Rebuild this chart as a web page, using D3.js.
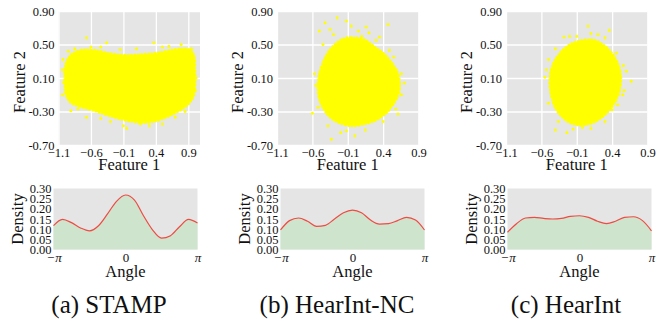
<!DOCTYPE html>
<html>
<head>
<meta charset="utf-8">
<script src="https://cdn.jsdelivr.net/npm/d3@7/dist/d3.min.js"></script>
<style>
  body { margin: 0; background: #fff; }
  svg text { font-family: "Liberation Serif", "Times New Roman", Times, "DejaVu Serif", serif; fill: #111; }
</style>
</head>
<body>
<div id="chart"></div>
<script>
// ---- data ----
const captions = ['(a) STAMP', '(b) HearInt-NC', '(c) HearInt'];

const xTicks = [-1.1, -0.6, -0.1, 0.4, 0.9];
const xTickLabels = ['\u22121.1', '\u22120.6', '\u22120.1', '0.4', '0.9'];
const yTicks = [0.9, 0.5, 0.1, -0.3, -0.7];
const yTickLabels = ['0.90', '0.50', '0.10', '-0.30', '-0.70'];

// outline of the dense part of each point cloud (feature 1, feature 2)
const stampCloud = [
  [-1.0, 0.0], [-1.0, 0.2], [-0.97, 0.3], [-0.9, 0.38], [-0.75, 0.43], [-0.55, 0.43],
  [-0.3, 0.39], [-0.05, 0.37], [0.2, 0.38], [0.45, 0.40], [0.7, 0.44], [0.9, 0.44],
  [0.98, 0.38], [1.0, 0.2], [1.0, 0.0], [0.97, -0.13], [0.87, -0.23], [0.66, -0.33],
  [0.40, -0.41], [0.19, -0.43], [-0.13, -0.39], [-0.54, -0.29], [-0.91, -0.19], [-0.99, -0.08]
];
const stampOutliers = [
  [-0.67, 0.58], [0.37, 0.52], [-1.03, 0.32], [-0.05, -0.50], [-0.67, -0.37], [-0.36, 0.52],
  [0.79, 0.50], [0.97, 0.27], [0.16, -0.45], [-0.91, -0.29], [-0.6, 0.47], [0.6, 0.48],
  [0.3, -0.47], [-0.3, -0.42], [0.85, -0.3], [-1.02, 0.05],
  [-0.85, 0.45], [-0.45, 0.47], [-0.15, 0.44], [0.1, 0.45], [0.5, 0.47], [0.95, 0.45],
  [1.02, 0.1], [1.01, -0.05], [0.7, -0.37], [0.5, -0.45], [-0.1, -0.47], [-0.45, -0.38],
  [-0.8, -0.27], [-1.04, -0.1], [-1.04, 0.2], [-0.95, 0.42]
];

const ncCloud = [
  [-0.52, 0.0], [-0.50, 0.15], [-0.45, 0.28], [-0.38, 0.40], [-0.28, 0.50], [-0.15, 0.57],
  [0.0, 0.58], [0.15, 0.55], [0.28, 0.47], [0.42, 0.38], [0.52, 0.28], [0.6, 0.17],
  [0.63, 0.05], [0.62, -0.08], [0.55, -0.2], [0.45, -0.31], [0.3, -0.40], [0.12, -0.45],
  [-0.05, -0.47], [-0.2, -0.44], [-0.33, -0.38], [-0.43, -0.28], [-0.50, -0.15]
];
const ncOutliers = [
  [-0.25, 0.82], [-0.42, 0.76], [0.47, 0.74], [0.16, 0.71], [-0.50, 0.66], [0.35, 0.59],
  [-0.60, -0.32], [-0.33, -0.63], [0.0, -0.59], [0.70, 0.04], [0.61, -0.33], [-0.55, 0.01],
  [0.49, 0.43], [-0.05, 0.72], [-0.35, 0.68], [0.2, 0.64], [0.66, 0.15], [-0.2, -0.55],
  [-0.45, 0.5], [-0.3, 0.62], [0.05, 0.66], [0.3, 0.55], [0.55, 0.35], [0.66, -0.1],
  [0.58, -0.27], [0.4, -0.42], [0.15, -0.52], [-0.12, -0.53], [-0.38, -0.47], [-0.52, -0.25],
  [-0.57, 0.15], [-0.12, 0.78], [0.1, 0.6]
];

const hiCloud = [
  [-0.48, 0.05], [-0.46, 0.2], [-0.40, 0.32], [-0.30, 0.43], [-0.17, 0.51], [0.0, 0.55],
  [0.15, 0.55], [0.28, 0.49], [0.40, 0.39], [0.48, 0.27], [0.52, 0.13], [0.51, -0.02],
  [0.46, -0.15], [0.37, -0.27], [0.25, -0.37], [0.10, -0.44], [-0.06, -0.46], [-0.2, -0.43],
  [-0.32, -0.35], [-0.41, -0.24], [-0.46, -0.1]
];
const hiOutliers = [
  [0.06, 0.72], [0.36, 0.67], [-0.28, 0.59], [-0.50, 0.32], [-0.55, 0.11], [0.67, 0.06],
  [0.60, 0.18], [-0.24, -0.55], [-0.02, -0.49], [0.40, -0.28], [-0.40, -0.52], [0.2, 0.62],
  [-0.1, 0.6], [0.55, -0.1],
  [-0.4, 0.45], [-0.2, 0.6], [0.1, 0.63], [0.3, 0.58], [0.46, 0.4], [0.56, 0.25],
  [0.57, -0.05], [0.48, -0.22], [0.3, -0.42], [0.1, -0.5], [-0.15, -0.51], [-0.36, -0.42],
  [-0.5, -0.2], [-0.53, 0.2]
];

// density of the angle, sampled at k*pi/8
const anglesPi = [-1, -0.875, -0.75, -0.625, -0.5, -0.375, -0.25, -0.125, 0,
  0.125, 0.25, 0.375, 0.5, 0.625, 0.75, 0.875, 1];
const stampDensity = [0.117, 0.148, 0.132, 0.106, 0.092, 0.117, 0.175, 0.237, 0.268,
  0.243, 0.166, 0.097, 0.056, 0.068, 0.112, 0.148, 0.130];
const ncDensity = [0.096, 0.142, 0.155, 0.139, 0.114, 0.119, 0.150, 0.181, 0.194,
  0.181, 0.145, 0.125, 0.127, 0.142, 0.158, 0.145, 0.096];
const hiDensity = [0.085, 0.127, 0.155, 0.158, 0.153, 0.150, 0.153, 0.163, 0.166,
  0.158, 0.139, 0.127, 0.139, 0.158, 0.161, 0.142, 0.092];
const densityTicks = [0, 0.05, 0.10, 0.15, 0.20, 0.25, 0.30];

// ---- layout ----
const width = 670, height = 325;
const bg = '#e5e5e5';
const serif = '"Liberation Serif", "Times New Roman", Times, "DejaVu Serif", serif';

const panels = [
  { left: 58.5, dLeft: 53.5, xMax: 1.08, cloud: stampCloud, outliers: stampOutliers, density: stampDensity, cx: 109 },
  { left: 277, dLeft: 280.5, xMax: 0.9, cloud: ncCloud, outliers: ncOutliers, density: ncDensity, cx: 337 },
  { left: 506, dLeft: 507.5, xMax: 0.9, cloud: hiCloud, outliers: hiOutliers, density: hiDensity, cx: 566 }
];
const sc = { top: 11, w: 141.5, h: 134 };
const dn = { top: 188.5, w: 144, h: 61 };

const svg = d3.select('#chart').append('svg')
  .attr('width', width)
  .attr('height', height)
  .attr('font-family', serif);

function styleTicks(sel, size) {
  sel.selectAll('text')
    .attr('font-family', serif)
    .style('font-family', serif)
    .style('font-size', size)
    .attr('fill', '#111');
}

panels.forEach((p, i) => {
  // Scatter
  const g = svg.append('g').attr('transform', `translate(${p.left},${sc.top})`);
  const x = d3.scaleLinear().domain([-1.1, p.xMax]).range([0, sc.w]);
  const y = d3.scaleLinear().domain([-0.7, 0.9]).range([sc.h, 0]);

  g.append('rect').attr('width', sc.w).attr('height', sc.h).attr('fill', bg);

  // grid
  g.append('g')
    .call(d3.axisBottom(x).tickValues(xTicks).tickSize(sc.h).tickFormat(''))
    .call(a => a.select('.domain').remove())
    .selectAll('line').attr('stroke', '#fff').attr('stroke-width', 1.3);
  g.append('g')
    .call(d3.axisLeft(y).tickValues(yTicks).tickSize(-sc.w).tickFormat(''))
    .call(a => a.select('.domain').remove())
    .selectAll('line').attr('stroke', '#fff').attr('stroke-width', 1.3);

  // cloud
  const outline = d3.line()
    .x(d => x(d[0]))
    .y(d => y(d[1]))
    .curve(d3.curveCatmullRomClosed);

  g.append('path')
    .datum(p.cloud)
    .attr('d', outline)
    .attr('fill', '#ffff00')
    .attr('stroke', '#ffff00')
    .attr('stroke-width', 3.2)
    .attr('stroke-linecap', 'round')
    .attr('stroke-dasharray', '0 3.4');

  g.selectAll('.out')
    .data(p.outliers)
    .enter()
    .append('circle')
    .attr('cx', d => x(d[0]))
    .attr('cy', d => y(d[1]))
    .attr('r', 1.5)
    .attr('fill', '#ffff00');

  // axes labels
  g.append('g')
    .attr('transform', `translate(0,${sc.h})`)
    .call(d3.axisBottom(x).tickValues(xTicks).tickSize(0).tickPadding(3)
      .tickFormat((d, k) => xTickLabels[k]))
    .call(a => a.select('.domain').remove())
    .call(a => styleTicks(a, '12.5px'));

  g.append('g')
    .call(d3.axisLeft(y).tickValues(yTicks).tickSize(0).tickPadding(4)
      .tickFormat((d, k) => yTickLabels[k]))
    .call(a => a.select('.domain').remove())
    .call(a => styleTicks(a, '12.5px'));

  g.append('text')
    .attr('x', sc.w / 2)
    .attr('y', sc.h + 25)
    .attr('text-anchor', 'middle')
    .style('font-size', '16.5px')
    .text('Feature 1');

  g.append('text')
    .attr('transform', `translate(-34,${sc.h / 2 + 4}) rotate(-90)`)
    .attr('text-anchor', 'middle')
    .style('font-size', '16.5px')
    .text('Feature 2');

  // Density
  const dg = svg.append('g').attr('transform', `translate(${p.dLeft},${dn.top})`);
  const xa = d3.scaleLinear().domain([-Math.PI, Math.PI]).range([0, dn.w]);
  const yd = d3.scaleLinear().domain([0, 0.3]).range([dn.h, 0]);

  dg.append('rect').attr('width', dn.w).attr('height', dn.h).attr('fill', bg);

  const pts = anglesPi.map((a, k) => ({ a: a * Math.PI, v: p.density[k] }));

  dg.append('path')
    .datum(pts)
    .attr('fill', '#cfe4cd')
    .attr('d', d3.area().x(d => xa(d.a)).y0(dn.h).y1(d => yd(d.v)).curve(d3.curveMonotoneX));

  dg.append('path')
    .datum(pts)
    .attr('fill', 'none')
    .attr('stroke', '#ee4b45')
    .attr('stroke-width', 1.2)
    .attr('d', d3.line().x(d => xa(d.a)).y(d => yd(d.v)).curve(d3.curveMonotoneX));

  dg.append('g')
    .call(d3.axisLeft(yd).tickValues(densityTicks).tickSize(0).tickPadding(2)
      .tickFormat(d3.format('.2f')))
    .call(a => a.select('.domain').remove())
    .call(a => styleTicks(a, '12.5px'));

  const angleLabels = ['\u2212\u03c0', '0', '\u03c0'];
  dg.append('g')
    .attr('transform', `translate(0,${dn.h})`)
    .call(d3.axisBottom(xa).tickValues([-Math.PI, 0, Math.PI]).tickSize(0).tickPadding(3)
      .tickFormat((d, k) => angleLabels[k]))
    .call(a => a.select('.domain').remove())
    .call(a => styleTicks(a, '13px'))
    .selectAll('text')
    .style('font-style', (d, k) => k === 1 ? 'normal' : 'italic');

  dg.append('text')
    .attr('x', dn.w / 2)
    .attr('y', dn.h + 27.5)
    .attr('text-anchor', 'middle')
    .style('font-size', '16.5px')
    .text('Angle');

  dg.append('text')
    .attr('transform', `translate(-31,${dn.h / 2}) rotate(-90)`)
    .attr('text-anchor', 'middle')
    .style('font-size', '16.5px')
    .text('Density');

  // caption
  svg.append('text')
    .attr('x', p.cx)
    .attr('y', 313)
    .attr('text-anchor', 'middle')
    .style('font-size', '25px')
    .text(captions[i]);
});
</script>
</body>
</html>
